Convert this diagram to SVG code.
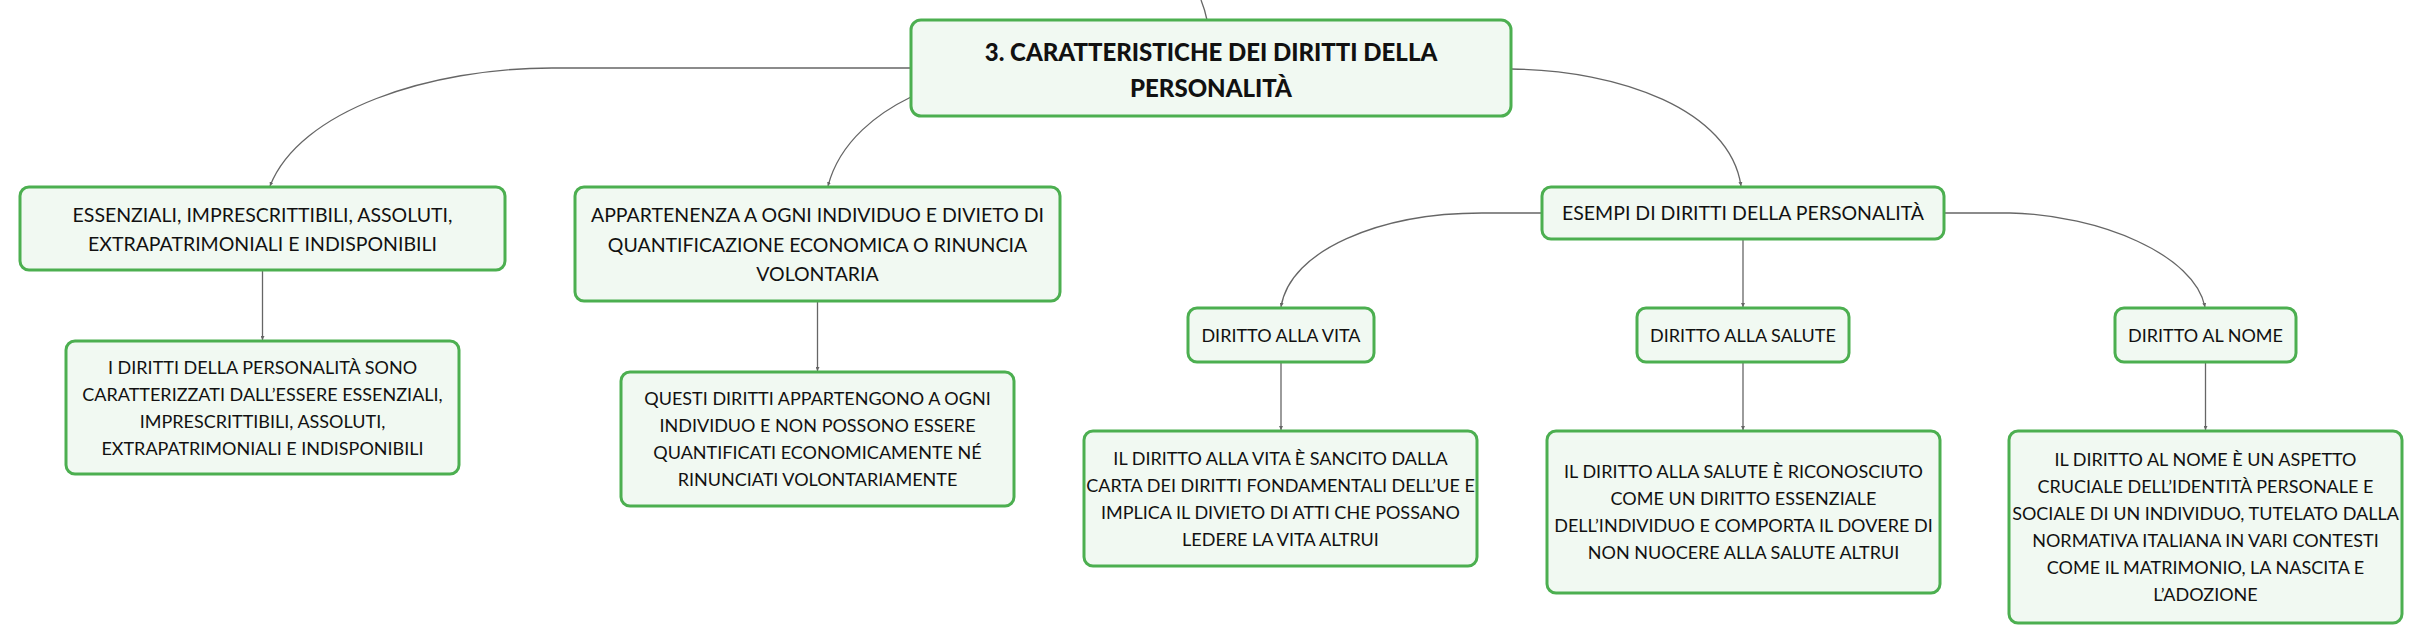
<svg xmlns="http://www.w3.org/2000/svg" width="2423" height="643" viewBox="0 0 2423 643">
<style>
.box{fill:#f1f9f2;stroke:#4caf50;stroke-width:3}
.t{font-family:Lato,"Open Sans","Liberation Sans",sans-serif;fill:#111;text-anchor:middle}
.t1{font-size:19.5px}
.t2{font-size:18px}
.t0{font-size:24px;font-weight:900}
.c{fill:none;stroke:#666;stroke-width:1.3}
</style>
<defs>
<marker id="ar" viewBox="0 0 6 6" refX="6" refY="3" markerWidth="4" markerHeight="4" orient="auto" markerUnits="userSpaceOnUse">
<path d="M0,0 L6,3 L0,6 z" fill="#666"/>
</marker>
</defs>
<rect width="2423" height="643" fill="#fff"/>
<g id="connectors">
<path class="c" d="M1201,0 Q1205,10 1207,20"/>
<path class="c" d="M911,68 L552,68 C430,68 300,110 270,186" marker-end="url(#ar)"/>
<path class="c" d="M911,97 C880,112 840,140 828,186" marker-end="url(#ar)"/>
<path class="c" d="M1511,69 C1620,70 1730,110 1741,186" marker-end="url(#ar)"/>
<path class="c" d="M262.5,270 L262.5,340" marker-end="url(#ar)"/>
<path class="c" d="M817.5,301 L817.5,371" marker-end="url(#ar)"/>
<path class="c" d="M1542,213 L1482,213 C1380,213 1290,250 1281,307" marker-end="url(#ar)"/>
<path class="c" d="M1743,239 L1743,307" marker-end="url(#ar)"/>
<path class="c" d="M1944,213 L2010,213 C2100,215 2195,255 2205,307" marker-end="url(#ar)"/>
<path class="c" d="M1281,362 L1281,430" marker-end="url(#ar)"/>
<path class="c" d="M1743,362 L1743,430" marker-end="url(#ar)"/>
<path class="c" d="M2205.5,362 L2205.5,430" marker-end="url(#ar)"/>
</g>
<g id="root">
<rect class="box" x="911" y="20" width="600" height="96" rx="10"/>
<text class="t t0" x="1211" y="60.5">3. CARATTERISTICHE DEI DIRITTI DELLA</text>
<text class="t t0" x="1211" y="96.5">PERSONALITÀ</text>
</g>
<g id="n-essenziali">
<rect class="box" x="20" y="187" width="485" height="83" rx="9"/>
<text class="t t1" x="262.5" y="222">ESSENZIALI, IMPRESCRITTIBILI, ASSOLUTI,</text>
<text class="t t1" x="262.5" y="251">EXTRAPATRIMONIALI E INDISPONIBILI</text>
</g>
<g id="n-appartenenza">
<rect class="box" x="575" y="187" width="485" height="114" rx="9"/>
<text class="t t1" x="817.5" y="222">APPARTENENZA A OGNI INDIVIDUO E DIVIETO DI</text>
<text class="t t1" x="817.5" y="251.5">QUANTIFICAZIONE ECONOMICA O RINUNCIA</text>
<text class="t t1" x="817.5" y="281">VOLONTARIA</text>
</g>
<g id="n-esempi">
<rect class="box" x="1542" y="187" width="402" height="52" rx="9"/>
<text class="t t1" x="1743" y="220">ESEMPI DI DIRITTI DELLA PERSONALITÀ</text>
</g>
<g id="n-essenziali-desc">
<rect class="box" x="66" y="341" width="393" height="133" rx="9"/>
<text class="t t2" x="262.5" y="373.5">I DIRITTI DELLA PERSONALITÀ SONO</text>
<text class="t t2" x="262.5" y="400.5">CARATTERIZZATI DALL’ESSERE ESSENZIALI,</text>
<text class="t t2" x="262.5" y="427.5">IMPRESCRITTIBILI, ASSOLUTI,</text>
<text class="t t2" x="262.5" y="454.5">EXTRAPATRIMONIALI E INDISPONIBILI</text>
</g>
<g id="n-appartenenza-desc">
<rect class="box" x="621" y="372" width="393" height="134" rx="9"/>
<text class="t t2" x="817.5" y="404.5">QUESTI DIRITTI APPARTENGONO A OGNI</text>
<text class="t t2" x="817.5" y="431.5">INDIVIDUO E NON POSSONO ESSERE</text>
<text class="t t2" x="817.5" y="458.5">QUANTIFICATI ECONOMICAMENTE NÉ</text>
<text class="t t2" x="817.5" y="485.5">RINUNCIATI VOLONTARIAMENTE</text>
</g>
<g id="n-vita">
<rect class="box" x="1188" y="308" width="186" height="54" rx="9"/>
<text class="t t2" x="1281" y="341.5">DIRITTO ALLA VITA</text>
</g>
<g id="n-salute">
<rect class="box" x="1637" y="308" width="212" height="54" rx="9"/>
<text class="t t2" x="1743" y="341.5">DIRITTO ALLA SALUTE</text>
</g>
<g id="n-nome">
<rect class="box" x="2115" y="308" width="181" height="54" rx="9"/>
<text class="t t2" x="2205.5" y="341.5">DIRITTO AL NOME</text>
</g>
<g id="n-vita-desc">
<rect class="box" x="1084" y="431" width="393" height="135" rx="9"/>
<text class="t t2" x="1280.5" y="464.5">IL DIRITTO ALLA VITA È SANCITO DALLA</text>
<text class="t t2" x="1280.5" y="491.5">CARTA DEI DIRITTI FONDAMENTALI DELL’UE E</text>
<text class="t t2" x="1280.5" y="518.5">IMPLICA IL DIVIETO DI ATTI CHE POSSANO</text>
<text class="t t2" x="1280.5" y="545.5">LEDERE LA VITA ALTRUI</text>
</g>
<g id="n-salute-desc">
<rect class="box" x="1547" y="431" width="393" height="162" rx="9"/>
<text class="t t2" x="1743.5" y="478">IL DIRITTO ALLA SALUTE È RICONOSCIUTO</text>
<text class="t t2" x="1743.5" y="505">COME UN DIRITTO ESSENZIALE</text>
<text class="t t2" x="1743.5" y="532">DELL’INDIVIDUO E COMPORTA IL DOVERE DI</text>
<text class="t t2" x="1743.5" y="559">NON NUOCERE ALLA SALUTE ALTRUI</text>
</g>
<g id="n-nome-desc">
<rect class="box" x="2009" y="431" width="393" height="192" rx="9"/>
<text class="t t2" x="2205.5" y="465.5">IL DIRITTO AL NOME È UN ASPETTO</text>
<text class="t t2" x="2205.5" y="492.5">CRUCIALE DELL’IDENTITÀ PERSONALE E</text>
<text class="t t2" x="2205.5" y="519.5">SOCIALE DI UN INDIVIDUO, TUTELATO DALLA</text>
<text class="t t2" x="2205.5" y="546.5">NORMATIVA ITALIANA IN VARI CONTESTI</text>
<text class="t t2" x="2205.5" y="573.5">COME IL MATRIMONIO, LA NASCITA E</text>
<text class="t t2" x="2205.5" y="600.5">L’ADOZIONE</text>
</g>
</svg>
